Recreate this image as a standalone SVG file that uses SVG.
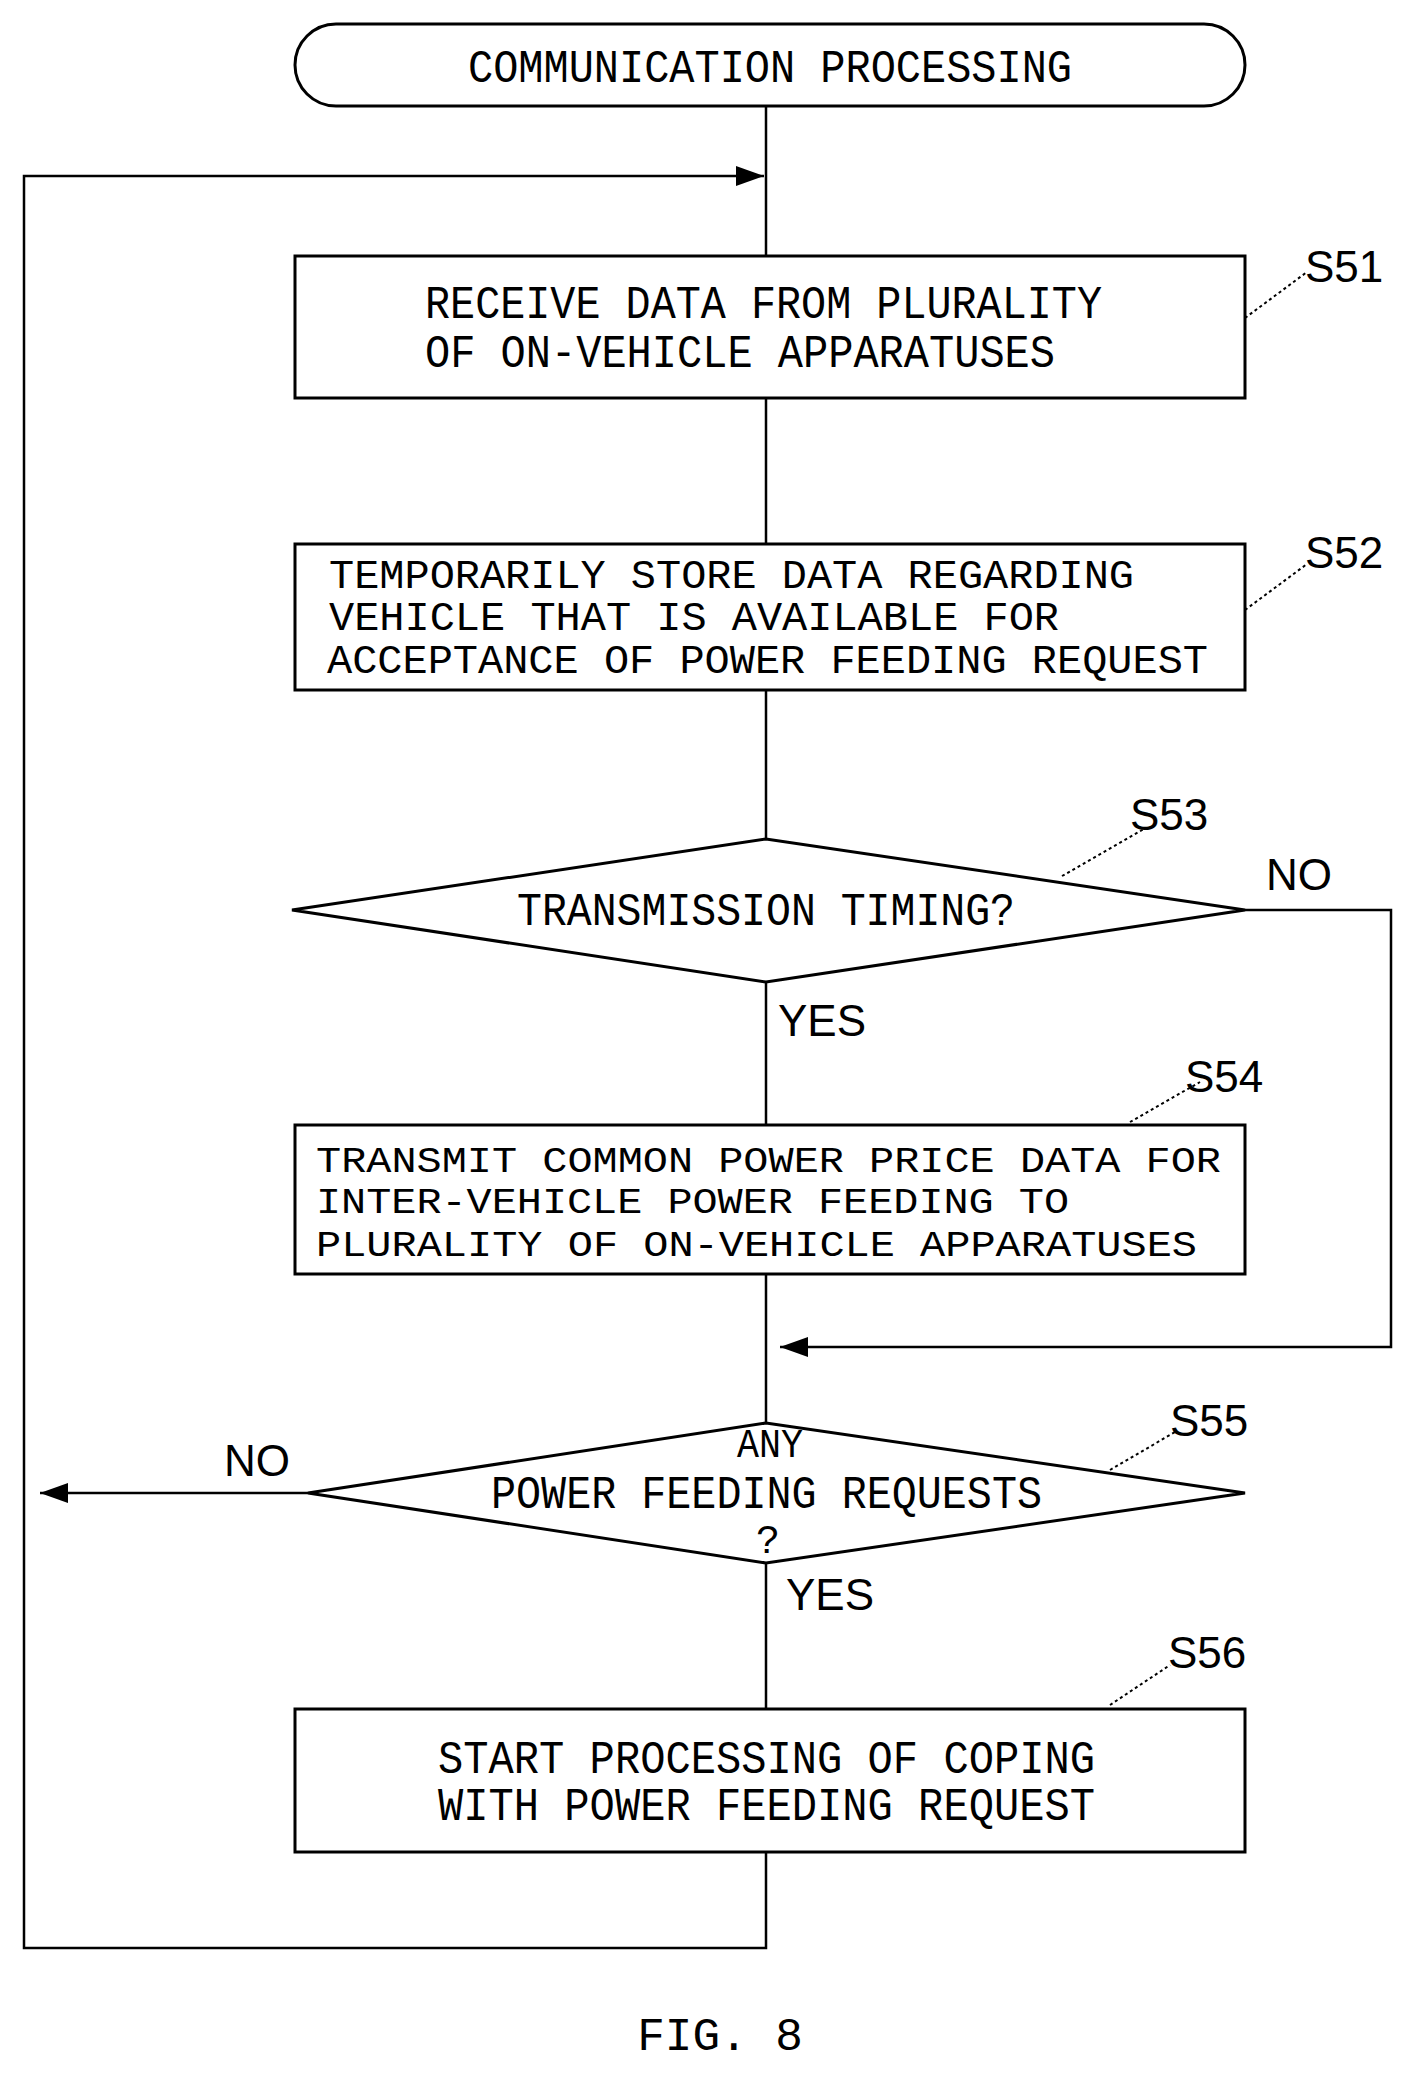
<svg xmlns="http://www.w3.org/2000/svg" width="1425" height="2097" viewBox="0 0 1425 2097">
<defs>
<style>
.b{fill:#fff;stroke:#000;stroke-width:3}
.t{font-family:"Liberation Mono",monospace;font-size:46px;fill:#000}
.s{font-size:40px}
.u{font-size:37px}
.l{font-family:"Liberation Sans",sans-serif;font-size:44px;fill:#000}
.c{fill:none;stroke:#000;stroke-width:2.5}
.d{fill:none;stroke:#000;stroke-width:2;stroke-dasharray:3 3}
</style>
<marker id="a" markerWidth="28" markerHeight="20" refX="28" refY="10" orient="auto" markerUnits="userSpaceOnUse" viewBox="0 0 28 20"><path d="M0,0L28,10L0,20z" fill="#000"/></marker>
</defs>
<rect width="1425" height="2097" fill="#fff"/>
<g id="connectors">
<path class="c" d="M766 106V256M766 398V544M766 690V839M766 982V1125M766 1274V1423M766 1563V1709M766 1852V1948H24V176H764" marker-end="url(#a)"/>
<path class="c" d="M1245 910H1391V1347H780" marker-end="url(#a)"/>
<path class="c" d="M308 1493H40" marker-end="url(#a)"/>
<path class="d" d="M1245 318L1307 272M1245 610L1307 564M1062 876L1144 829M1130 1122L1200 1082M1110 1470L1175 1432M1110 1705L1170 1665"/>
</g>
<g id="start"><rect class="b" x="295" y="24" width="950" height="82" rx="41"/><text class="t" x="770" y="82" text-anchor="middle" textLength="604" lengthAdjust="spacingAndGlyphs" font-size="42">COMMUNICATION PROCESSING</text></g>
<g id="s51"><rect class="b" x="295" y="256" width="950" height="142"/>
<text class="t" x="425" y="318" textLength="677" lengthAdjust="spacingAndGlyphs">RECEIVE DATA FROM PLURALITY</text>
<text class="t" x="425" y="367" textLength="630" lengthAdjust="spacingAndGlyphs">OF ON-VEHICLE APPARATUSES</text>
<text class="l" x="1305" y="282">S51</text></g>
<g id="s52"><rect class="b" x="295" y="544" width="950" height="146"/>
<text class="t s" x="329" y="588" textLength="805" lengthAdjust="spacingAndGlyphs">TEMPORARILY STORE DATA REGARDING</text>
<text class="t s" x="329" y="630" textLength="730" lengthAdjust="spacingAndGlyphs">VEHICLE THAT IS AVAILABLE FOR</text>
<text class="t s" x="327" y="673" textLength="881" lengthAdjust="spacingAndGlyphs">ACCEPTANCE OF POWER FEEDING REQUEST</text>
<text class="l" x="1305" y="568">S52</text></g>
<g id="s53"><polygon class="b" points="292,910 766,839 1245,910 766,982"/>
<text class="t" x="517" y="925" textLength="498" lengthAdjust="spacingAndGlyphs">TRANSMISSION TIMING?</text>
<text class="l" x="1130" y="830">S53</text><text class="l" x="1266" y="890">NO</text><text class="l" x="778" y="1036">YES</text></g>
<g id="s54"><rect class="b" x="295" y="1125" width="950" height="149"/>
<text class="t u" x="316" y="1172" textLength="905" lengthAdjust="spacingAndGlyphs">TRANSMIT COMMON POWER PRICE DATA FOR</text>
<text class="t u" x="316" y="1213" textLength="753" lengthAdjust="spacingAndGlyphs">INTER-VEHICLE POWER FEEDING TO</text>
<text class="t u" x="316" y="1256" textLength="881" lengthAdjust="spacingAndGlyphs">PLURALITY OF ON-VEHICLE APPARATUSES</text>
<text class="l" x="1185" y="1092">S54</text></g>
<g id="s55"><polygon class="b" points="308,1493 766,1423 1245,1493 766,1563"/>
<text class="t s" x="737" y="1457" textLength="66" lengthAdjust="spacingAndGlyphs">ANY</text>
<text class="t" x="491" y="1508" textLength="551" lengthAdjust="spacingAndGlyphs">POWER FEEDING REQUESTS</text>
<text class="t s" x="756" y="1553">?</text>
<text class="l" x="1170" y="1436">S55</text><text class="l" x="224" y="1476">NO</text><text class="l" x="786" y="1610">YES</text></g>
<g id="s56"><rect class="b" x="295" y="1709" width="950" height="143"/>
<text class="t" x="438" y="1773" textLength="657" lengthAdjust="spacingAndGlyphs">START PROCESSING OF COPING</text>
<text class="t" x="438" y="1820" textLength="657" lengthAdjust="spacingAndGlyphs">WITH POWER FEEDING REQUEST</text>
<text class="l" x="1168" y="1668">S56</text></g>
<text class="t" x="720" y="2050" text-anchor="middle" font-size="52">FIG. 8</text>
</svg>
